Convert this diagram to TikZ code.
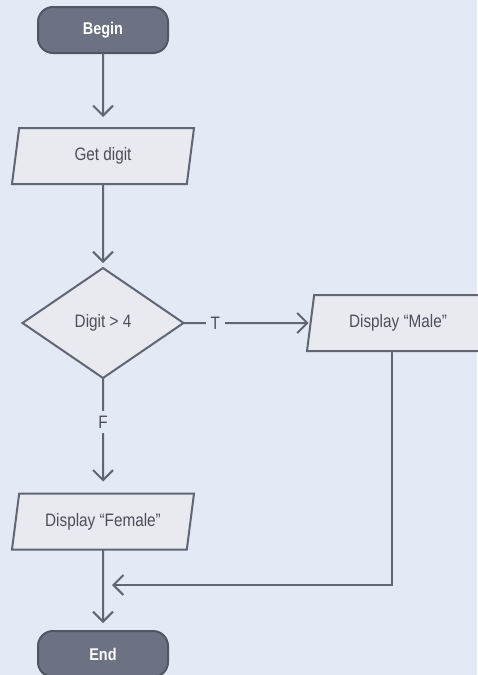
\documentclass[tikz,border=0pt]{standalone}
\usepackage{fontspec}
\setmainfont{Liberation Sans}[FakeStretch=0.85]
\usetikzlibrary{shapes.geometric,arrows.meta}
\definecolor{bg}{RGB}{227,234,246}
\definecolor{boxfill}{RGB}{232,234,239}
\definecolor{edge}{RGB}{96,102,116}
\definecolor{termfill}{RGB}{108,114,130}
\definecolor{termedge}{RGB}{80,86,100}
\definecolor{ink}{RGB}{74,79,90}
\begin{document}
\begin{tikzpicture}[x=1pt,y=1pt,
  every node/.style={font=\fontsize{18}{21}\selectfont, text=ink},
  terminal/.style={rectangle, rounded corners=15pt, draw=termedge, fill=termfill,
    line width=2pt, minimum width=130pt, minimum height=46pt, outer sep=0pt,
    text=white, font=\fontsize{17}{20}\selectfont\bfseries},
  iobox/.style={trapezium, trapezium left angle=73, trapezium right angle=107,
    trapezium stretches body=true, draw=edge, fill=boxfill, line width=2pt,
    minimum width=182pt, minimum height=56pt, outer sep=0pt},
  decision/.style={diamond, draw=edge, fill=boxfill, line width=2pt,
    minimum width=161pt, minimum height=110pt, aspect=1.46, outer sep=0pt},
  flow/.style={draw=edge, line width=2pt, -{Straight Barb[length=10pt,width=20pt]}},
  lbl/.style={fill=bg, inner xsep=5pt, inner ysep=5pt}
]
% page and background
\fill[bg] (0,0) rectangle (477,-675);
\useasboundingbox (0,0) rectangle (477,-675);

% nodes
\node[terminal] (begin) at (103,-30) {Begin};
\node[iobox] (get) at (103,-156) {Get digit};
\node[decision] (dec) at (103,-323) {Digit > 4};
\node[iobox] (male) at (398,-323) {Display “Male”};
\node[iobox] (female) at (103,-521.5) {Display “Female”};
\node[terminal] (end) at (103,-654) {End};
\coordinate (join) at (112,-585);

% connectors
\draw[flow, shorten >=11pt] (begin.south) -- (get.north);
\draw[flow, shorten >=5pt] (get.south) -- (dec.north);
\draw[flow, shorten >=2pt] (dec.east) -- node[lbl, pos=0.25] {T} (male.west);
\draw[flow, shorten >=12pt] (dec.south) -- node[lbl, pos=0.38] {F} (female.north);
\draw[flow, shorten >=8pt] (female.south) -- (end.north);
\draw[flow] ([xshift=-6pt]male.south) |- (join);
\end{tikzpicture}
\end{document}
